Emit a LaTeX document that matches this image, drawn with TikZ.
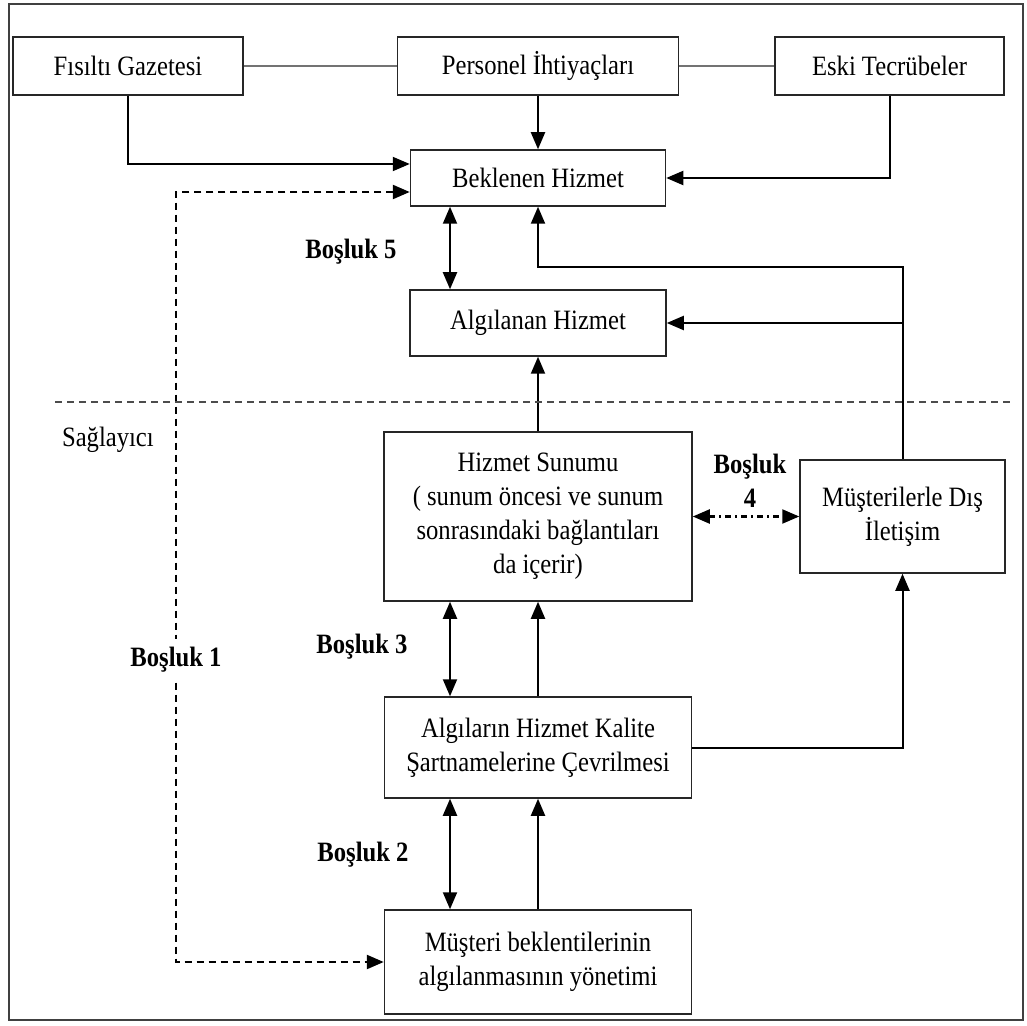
\documentclass[tikz,border=0pt]{standalone}
\usepackage{fontspec}
\setmainfont{Liberation Serif}[FakeStretch=0.88]
\usetikzlibrary{arrows.meta}
\begin{document}
\begin{tikzpicture}[x=0.5pt,y=-0.5pt,
  font=\fontsize{14}{17}\selectfont,
  box/.style={draw=black!85, line width=0.75pt, rectangle, inner sep=0pt, align=center},
  gap/.style={font=\fontsize{14}{17}\selectfont\bfseries, align=center},
  conn/.style={line width=1pt, black},
  tip/.style={-{Triangle[width=7pt,length=8.5pt]}},
  tips/.style={{Triangle[width=7pt,length=8.5pt]}-{Triangle[width=7pt,length=8.5pt]}},
  link/.style={line width=0.8pt, black!55},
  dashline/.style={line width=1.2pt, black, dash pattern=on 3.5pt off 2.5pt},
  dotdash/.style={line width=1.1pt, black, dash pattern=on 3pt off 2pt on 1pt off 2pt}]
\useasboundingbox (0,0) rectangle (1027,1026);
% outer frame
\draw[black!75, line width=0.9pt] (9,4) rectangle (1023,1020);

% column positions
\coordinate (xg) at (450,0);
\coordinate (xv) at (176,0);
\coordinate (yl) at (0,267);

% boxes
\node[box, minimum width=115pt,  minimum height=29pt]   (fis)  at (128,66)    {Fısıltı Gazetesi};
\node[box, minimum width=140.5pt,minimum height=29pt]   (per)  at (538,66)    {Personel İhtiyaçları};
\node[box, minimum width=114.5pt,minimum height=29pt]   (eski) at (889.5,66)  {Eski Tecrübeler};
\node[box, minimum width=127.5pt,minimum height=28pt]   (bek)  at (538,178)   {Beklenen Hizmet};
\node[box, minimum width=128pt,  minimum height=33pt]   (alg)  at (538,323)   {Algılanan Hizmet};
\node[box, minimum width=154pt,  minimum height=84.5pt] (sun)  at (538,516.5)
  {Hizmet Sunumu\\( sunum öncesi ve sunum\\sonrasındaki bağlantıları\\da içerir)};
\node[box, minimum width=102.5pt,minimum height=56.5pt] (mus)  at (902.5,516.5) {Müşterilerle Dış\\İletişim};
\node[box, minimum width=153.5pt,minimum height=50.5pt] (sar)  at (538,747.5)
  {Algıların Hizmet Kalite\\Şartnamelerine Çevrilmesi};
\node[box, minimum width=153.5pt,minimum height=52pt]   (yon)  at (538,962)
  {Müşteri beklentilerinin\\algılanmasının yönetimi};

% plain links between the top boxes
\draw[link] (fis.east) -- (per.west);
\draw[link] (per.east) -- (eski.west);

% inputs of the expected service
\draw[conn,tip] (fis.south) |- ([yshift=7pt]bek.west);
\draw[conn,tip] (per.south) -- (bek.north);
\draw[conn,tip] (eski.south) |- (bek.east);

% external communication feeds expected and perceived service
\draw[conn,tip] (mus.north) |- (bek.south |- yl) -- (bek.south);
\draw[conn,tip] (mus.north |- alg.east) -- (alg.east);

% provider side flow
\draw[conn,tip] (sun.north) -- (alg.south);
\draw[conn,tip] (sar.north) -- (sun.south);
\draw[conn,tip] (yon.north) -- (sar.south);
\draw[conn,tip] (sar.east) -| (mus.south);

% gaps
\draw[conn,tips] (bek.south -| xg) -- (alg.north -| xg);
\draw[conn,tips] (sun.south -| xg) -- (sar.north -| xg);
\draw[conn,tips] (sar.south -| xg) -- (yon.north -| xg);
\draw[dotdash,tips] (sun.east) -- (mus.west);
\draw[dashline,tips] ([yshift=-7pt]bek.west) -| (xv |- yon.west) -- (yon.west);

% customer / provider boundary
\coordinate (s1) at (55,402);
\coordinate (s2) at (1010,402);
\draw[dashline, black!70, line width=1pt] (s1) -- (s2);
\node[anchor=west] (prov) at (55,440) {Sağlayıcı};

% gap labels
\node[gap] (g5) at (351,252) {Boşluk 5};
\node[gap] (g4) at (750,481) {Boşluk\\4};
\node[gap] (g3) at (362,647) {Boşluk 3};
\node[gap] (g2) at (363,855) {Boşluk 2};
\node[gap, fill=white, inner sep=4pt] (g1) at (176,660) {Boşluk 1};
\end{tikzpicture}
\end{document}
